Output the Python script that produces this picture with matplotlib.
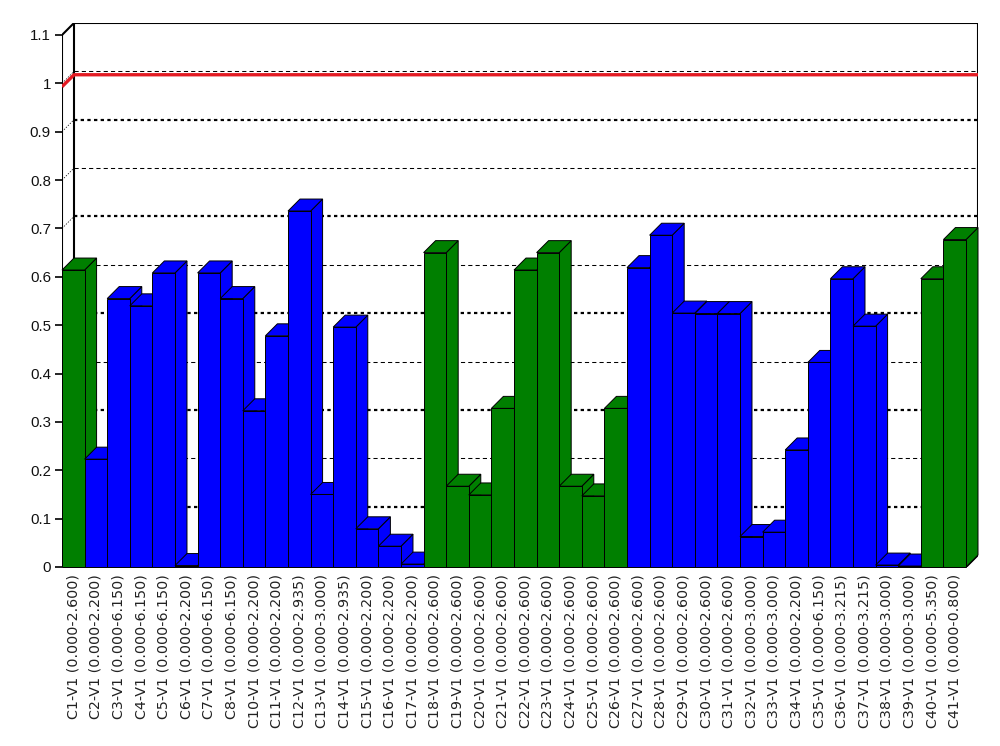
import numpy as np
import matplotlib.pyplot as plt
from matplotlib.patches import Polygon

# bar labels (C9 is absent in the source chart)
labels = [
    "C1-V1 (0.000-2.600)", "C2-V1 (0.000-2.200)", "C3-V1 (0.000-6.150)",
    "C4-V1 (0.000-6.150)", "C5-V1 (0.000-6.150)", "C6-V1 (0.000-2.200)",
    "C7-V1 (0.000-6.150)", "C8-V1 (0.000-6.150)", "C10-V1 (0.000-2.200)",
    "C11-V1 (0.000-2.200)", "C12-V1 (0.000-2.935)", "C13-V1 (0.000-3.000)",
    "C14-V1 (0.000-2.935)", "C15-V1 (0.000-2.200)", "C16-V1 (0.000-2.200)",
    "C17-V1 (0.000-2.200)", "C18-V1 (0.000-2.600)", "C19-V1 (0.000-2.600)",
    "C20-V1 (0.000-2.600)", "C21-V1 (0.000-2.600)", "C22-V1 (0.000-2.600)",
    "C23-V1 (0.000-2.600)", "C24-V1 (0.000-2.600)", "C25-V1 (0.000-2.600)",
    "C26-V1 (0.000-2.600)", "C27-V1 (0.000-2.600)", "C28-V1 (0.000-2.600)",
    "C29-V1 (0.000-2.600)", "C30-V1 (0.000-2.600)", "C31-V1 (0.000-2.600)",
    "C32-V1 (0.000-3.000)", "C33-V1 (0.000-3.000)", "C34-V1 (0.000-2.200)",
    "C35-V1 (0.000-6.150)", "C36-V1 (0.000-3.215)", "C37-V1 (0.000-3.215)",
    "C38-V1 (0.000-3.000)", "C39-V1 (0.000-3.000)", "C40-V1 (0.000-5.350)",
    "C41-V1 (0.000-0.800)",
]
values = [
    0.614, 0.223, 0.555, 0.540, 0.608, 0.003, 0.608, 0.555, 0.323, 0.478,
    0.736, 0.150, 0.496, 0.079, 0.043, 0.006, 0.650, 0.167, 0.149, 0.328,
    0.614, 0.650, 0.167, 0.147, 0.328, 0.619, 0.686, 0.525, 0.524, 0.524,
    0.063, 0.072, 0.242, 0.423, 0.596, 0.498, 0.004, 0.002, 0.596, 0.677,
]
groups = [
    "A", "B", "B", "B", "B", "B", "B", "B", "B", "B",
    "B", "B", "B", "B", "B", "B", "A", "A", "A", "A",
    "A", "A", "A", "A", "A", "B", "B", "B", "B", "B",
    "B", "B", "B", "B", "B", "B", "B", "B", "A", "A",
]
limit = 0.993
yticks = [0.0, 0.1, 0.2, 0.3, 0.4, 0.5, 0.6, 0.7, 0.8, 0.9, 1.0, 1.1]
ytick_labels = ["0", "0.1", "0.2", "0.3", "0.4", "0.5", "0.6", "0.7",
                "0.8", "0.9", "1", "1.1"]

group_colors = {"A": "#007f00", "B": "#0000ff"}

n = len(values)
DX = 0.53     # depth offset in bar units
DY = 0.0248   # depth offset in value units

fig = plt.figure(figsize=(10, 7.46), dpi=100)
ax = fig.add_axes([0.062, (746 - 567) / 746, 0.916, 544 / 746])
ax.set_xlim(0, n + DX)
ax.set_ylim(0, 1.1 + DY)
for s in ax.spines.values():
    s.set_visible(False)

# back wall grid
for t in yticks[1:-1]:
    if round(t * 10) % 2 == 1:
        ls, lw = (0, (1.5, 1.5)), 1.6
    else:
        ls, lw = (0, (4, 3)), 0.75
    ax.plot([DX, n + DX], [t + DY, t + DY], color="black", lw=lw, ls=ls, zorder=1)
    ax.plot([0, DX], [t, t + DY], color="black", lw=0.5, ls=(0, (2, 2)), zorder=1)

# frame of the box
frame_kw = dict(color="black", lw=1.5, zorder=1, solid_capstyle="butt")
ax.plot([0, 0], [0, 1.1], **frame_kw)
ax.plot([0, DX], [1.1, 1.1 + DY], **frame_kw)
ax.plot([DX, DX], [DY, 1.1 + DY], **frame_kw)
ax.plot([DX, n + DX], [1.1 + DY, 1.1 + DY], **frame_kw)
ax.plot([n + DX, n + DX], [DY, 1.1 + DY], **frame_kw)
ax.plot([0, n], [0, 0], **frame_kw)
ax.plot([n, n + DX], [0, DY], **frame_kw)

# limit line
ax.plot([0, DX, n + DX], [limit, limit + DY, limit + DY],
        color="#e31b23", lw=2.4, zorder=2, solid_capstyle="butt")

# pseudo-3d bars, left to right so each bar hides the one before
for i, (v, g) in enumerate(zip(values, groups)):
    c = group_colors[g]
    side = [(i + 1, 0), (i + 1 + DX, DY), (i + 1 + DX, v + DY), (i + 1, v)]
    top = [(i, v), (i + DX, v + DY), (i + 1 + DX, v + DY), (i + 1, v)]
    front = [(i, 0), (i + 1, 0), (i + 1, v), (i, v)]
    for pts in (side, top, front):
        ax.add_patch(Polygon(pts, closed=True, facecolor=c, edgecolor="black",
                             lw=0.7, zorder=3, clip_on=False))

ax.set_yticks(yticks)
ax.set_yticklabels(ytick_labels, family="Liberation Sans", fontsize=10.8,
                   color="#111111")
ax.tick_params(axis="y", direction="out", length=5, width=1.2, pad=3)

ax.set_xticks(np.arange(n) + 0.5)
ax.set_xticklabels(labels, rotation=90, family="DejaVu Sans", fontsize=10.3,
                   color="#222222", va="top", ha="center")
ax.tick_params(axis="x", length=0, pad=5)

fig.savefig("out.png", dpi=100)
